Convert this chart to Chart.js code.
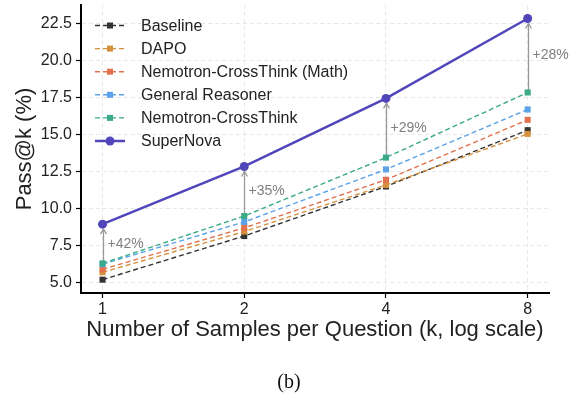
<!DOCTYPE html>
<html>
<head>
<meta charset="utf-8">
<script src="https://cdn.jsdelivr.net/npm/chart.js@4/dist/chart.umd.min.js"></script>
<style>
  html, body { margin: 0; padding: 0; background: #fff; }
  #wrap { width: 577px; height: 398px; position: relative; }
</style>
</head>
<body>
<div id="wrap"><canvas id="c" width="577" height="398"></canvas></div>
<script>
// ---- data ----
const kValues = [1, 2, 4, 8];
const xTickValues = [1, 2, 4, 8];
const yTickValues = [5.0, 7.5, 10.0, 12.5, 15.0, 17.5, 20.0, 22.5];
const seriesNames = ["Baseline", "DAPO", "Nemotron-CrossThink (Math)", "General Reasoner", "Nemotron-CrossThink", "SuperNova"];
const baseline   = [5.2, 8.15, 11.5, 15.3];
const dapo       = [5.7, 8.45, 11.6, 15.05];
const nemoMath   = [5.9, 8.7, 11.95, 16.0];
const generalRsn = [6.25, 9.1, 12.65, 16.7];
const nemoCT     = [6.3, 9.5, 13.45, 17.85];
const superNova  = [8.95, 12.85, 17.45, 22.85];
const gainLabels = ["+42%", "+35%", "+29%", "+28%"];
const captionText = "(b)";

// ---- styles ----
const colors = ["#333333", "#d4903c", "#e2724f", "#5ba2e8", "#3aaa88", "#5046ba"];
const allSeries = [baseline, dapo, nemoMath, generalRsn, nemoCT, superNova];

const datasets = allSeries.map((vals, i) => {
  const isSN = i === 5;
  return {
    label: seriesNames[i],
    data: kValues.map((k, j) => ({ x: k, y: vals[j] })),
    borderColor: colors[i],
    backgroundColor: colors[i],
    borderWidth: isSN ? 2.5 : 1.4,
    borderDash: isSN ? [] : [5, 3],
    pointStyle: isSN ? 'circle' : 'rect',
    pointRadius: isSN ? 4.5 : 4.3,
    pointBorderWidth: 0,
    pointBackgroundColor: colors[i],
    tension: 0,
    order: 6 - i
  };
});

const FONT = "'Liberation Sans', Arial, sans-serif";

const annotPlugin = {
  id: 'annot',
  beforeDatasetsDraw(chart) {
    const { ctx, scales: { x, y } } = chart;
    ctx.save();
    kValues.forEach((k, j) => {
      const px = Math.round(x.getPixelForValue(k)) + 0.5;
      const yLow = y.getPixelForValue(nemoCT[j]);
      const yHigh = y.getPixelForValue(superNova[j]);
      const tipY = yHigh + 5;
      ctx.strokeStyle = '#999999';
      ctx.lineWidth = 1.3;
      ctx.setLineDash([]);
      ctx.beginPath();
      ctx.moveTo(px, yLow);
      ctx.lineTo(px, tipY);
      ctx.stroke();
      ctx.beginPath();
      ctx.moveTo(px - 3, tipY + 5);
      ctx.lineTo(px, tipY);
      ctx.lineTo(px + 3, tipY + 5);
      ctx.stroke();
      ctx.fillStyle = '#808080';
      ctx.font = "14px " + FONT;
      ctx.textAlign = 'left';
      ctx.textBaseline = 'middle';
      ctx.fillText(gainLabels[j], px + 4, (yLow + yHigh) / 2);
    });
    ctx.restore();
  },
  afterDraw(chart) {
    const { ctx } = chart;
    ctx.save();
    // legend
    const x0 = 95, x1 = 125, xm = 110, xt = 141;
    seriesNames.forEach((name, i) => {
      const yy = 25.5 + i * 23.1;
      const ds = chart.data.datasets[i];
      ctx.strokeStyle = ds.borderColor;
      ctx.lineWidth = ds.borderWidth;
      ctx.setLineDash(ds.borderDash);
      ctx.beginPath();
      ctx.moveTo(x0, yy);
      ctx.lineTo(x1, yy);
      ctx.stroke();
      ctx.setLineDash([]);
      ctx.fillStyle = ds.borderColor;
      if (i === 5) {
        ctx.beginPath();
        ctx.arc(xm, yy, 4.5, 0, Math.PI * 2);
        ctx.fill();
      } else {
        ctx.fillRect(xm - 3, yy - 3, 6, 6);
      }
      ctx.fillStyle = '#222';
      ctx.font = "16px " + FONT;
      ctx.textAlign = 'left';
      ctx.textBaseline = 'middle';
      ctx.fillText(name, xt, yy + 1);
    });
    // caption
    ctx.fillStyle = '#111';
    ctx.font = "20px 'Liberation Serif', 'Times New Roman', serif";
    ctx.textAlign = 'center';
    ctx.textBaseline = 'middle';
    ctx.fillText(captionText, 289, 383);
    ctx.restore();
  }
};

new Chart(document.getElementById('c'), {
  type: 'line',
  data: { datasets },
  options: {
    responsive: false,
    animation: false,
    devicePixelRatio: 1,
    layout: { padding: { left: 0, right: 28, top: 5, bottom: 0 } },
    plugins: { legend: { display: false }, tooltip: { enabled: false } },
    scales: {
      x: {
        type: 'logarithmic',
        min: 0.9,
        max: 8.88,
        bounds: 'data',
        afterBuildTicks(scale) { scale.ticks = xTickValues.map(v => ({ value: v })); },
        afterFit(scale) { scale.height = 105; scale.paddingLeft = 0; scale.paddingRight = 0; },
        ticks: {
          autoSkip: false, maxRotation: 0, padding: 2,
          color: '#222', font: { family: FONT, size: 16 },
          callback: (v) => String(v)
        },
        grid: { color: 'rgba(0,0,0,0.09)', lineWidth: 1, tickColor: '#000', tickLength: 5, tickWidth: 1.2 },
        border: { display: true, color: '#000', width: 2, dash: [4, 3] },
        title: {
          display: true, text: 'Number of Samples per Question (k, log scale)',
          color: '#222', font: { family: FONT, size: 22 }, padding: { top: 0, bottom: 55 }
        }
      },
      y: {
        type: 'linear',
        min: 4.3,
        max: 23.76,
        bounds: 'data',
        afterBuildTicks(scale) { scale.ticks = yTickValues.map(v => ({ value: v })); },
        afterFit(scale) { scale.width = 81; scale.paddingTop = 0; scale.paddingBottom = 0; },
        ticks: {
          padding: 4,
          color: '#222', font: { family: FONT, size: 16 },
          callback: (v) => Number(v).toFixed(1)
        },
        grid: { color: 'rgba(0,0,0,0.09)', lineWidth: 1, tickColor: '#000', tickLength: 5, tickWidth: 1.2 },
        border: { display: true, color: '#000', width: 2, dash: [4, 3] },
        title: {
          display: true, text: 'Pass@k (%)',
          color: '#222', font: { family: FONT, size: 22 }, padding: { top: 12, bottom: 0 }
        }
      }
    }
  },
  plugins: [annotPlugin]
});
</script>
</body>
</html>
